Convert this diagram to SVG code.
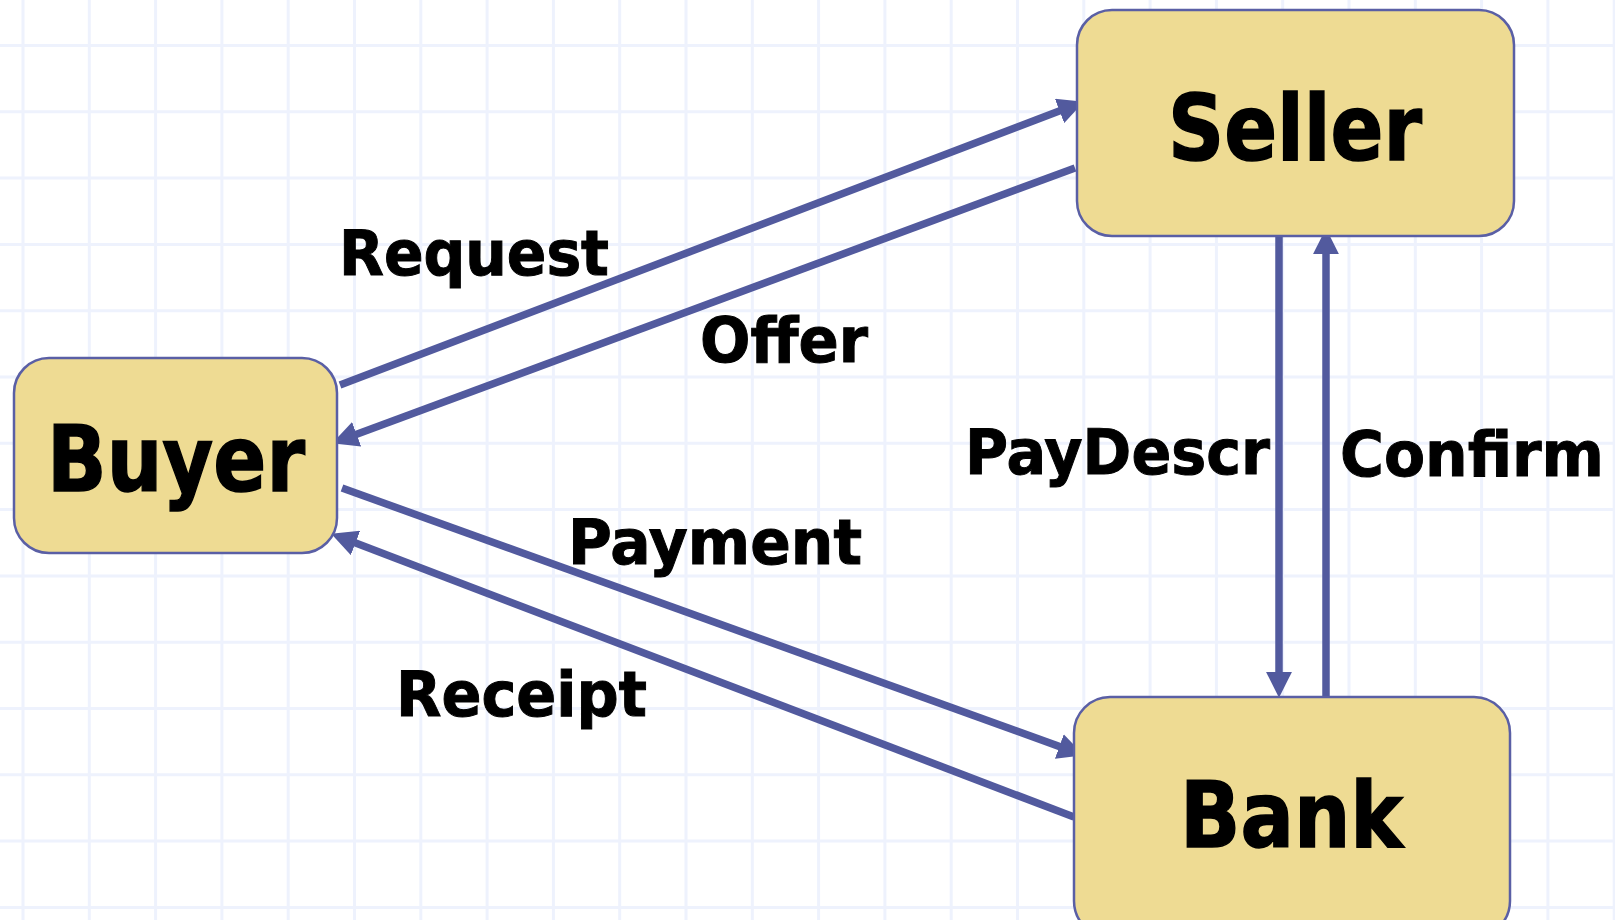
<svg xmlns="http://www.w3.org/2000/svg" width="1615" height="920" viewBox="0 0 1615 920">
<style>
.grid{stroke:#eef2fd;stroke-width:3;fill:none}
.node{fill:#eedb93;stroke:#5a5fa5;stroke-width:2.5}
.big{font-family:"DejaVu Sans","Liberation Sans",sans-serif;font-weight:bold;font-size:90px;fill:#000;stroke:#000;stroke-width:1.5}
.lbl{font-family:"DejaVu Sans","Liberation Sans",sans-serif;font-weight:bold;font-size:62px;fill:#000;stroke:#000;stroke-width:1}
.edge{stroke:#525a9e;stroke-width:7.5;fill:none}
</style>
<defs>
<marker id="ah" viewBox="0 0 24 24" markerWidth="26" markerHeight="26" refX="14" refY="12" orient="auto" markerUnits="userSpaceOnUse">
<path d="M0,0 L24,12 L0,24 z" fill="#525a9e"/>
</marker>
</defs>
<rect width="1615" height="920" fill="#ffffff"/>
<path class="grid" d="M23,0V920M89.3,0V920M155.6,0V920M221.9,0V920M288.2,0V920M354.5,0V920M420.8,0V920M487.1,0V920M553.4,0V920M619.7,0V920M686,0V920M752.3,0V920M818.6,0V920M884.9,0V920M951.2,0V920M1017.5,0V920M1083.8,0V920M1150.1,0V920M1216.4,0V920M1282.7,0V920M1349,0V920M1415.3,0V920M1481.6,0V920M1547.9,0V920M1614.2,0V920M0,45.5H1615M0,111.8H1615M0,178.1H1615M0,244.4H1615M0,310.7H1615M0,377H1615M0,443.3H1615M0,509.6H1615M0,575.9H1615M0,642.2H1615M0,708.5H1615M0,774.8H1615M0,841.1H1615M0,907.4H1615"/>
<g id="connectors">
<line class="edge" x1="340" y1="385" x2="1073.7" y2="105.6" marker-end="url(#ah)"/>
<line class="edge" x1="1075" y1="168" x2="342.4" y2="439.5" marker-end="url(#ah)"/>
<line class="edge" x1="342" y1="488" x2="1073.6" y2="751.6" marker-end="url(#ah)"/>
<line class="edge" x1="1074" y1="817" x2="341.3" y2="537.6" marker-end="url(#ah)"/>
<line class="edge" x1="1279" y1="236" x2="1279" y2="687" marker-end="url(#ah)"/>
<line class="edge" x1="1326" y1="697" x2="1326" y2="239" marker-end="url(#ah)"/>
<text class="lbl" x="339" y="275" textLength="270" lengthAdjust="spacingAndGlyphs">Request</text>
<text class="lbl" x="700" y="362" textLength="168" lengthAdjust="spacingAndGlyphs">Offer</text>
<text class="lbl" x="965" y="474" textLength="305" lengthAdjust="spacingAndGlyphs">PayDescr</text>
<text class="lbl" x="1340" y="476" textLength="264" lengthAdjust="spacingAndGlyphs">Confirm</text>
<text class="lbl" x="568" y="564" textLength="294" lengthAdjust="spacingAndGlyphs">Payment</text>
<text class="lbl" x="396" y="716" textLength="251" lengthAdjust="spacingAndGlyphs">Receipt</text>
</g>
<g id="seller">
<rect class="node" x="1077" y="10" width="437" height="226" rx="35"/>
<text class="big" x="1168" y="160" textLength="254" lengthAdjust="spacingAndGlyphs">Seller</text>
</g>
<g id="buyer">
<rect class="node" x="14" y="358" width="323" height="195" rx="35"/>
<text class="big" x="47" y="491" textLength="258" lengthAdjust="spacingAndGlyphs">Buyer</text>
</g>
<g id="bank">
<rect class="node" x="1074" y="697" width="436" height="240" rx="36"/>
<text class="big" x="1180" y="847" textLength="223" lengthAdjust="spacingAndGlyphs">Bank</text>
</g>
</svg>
